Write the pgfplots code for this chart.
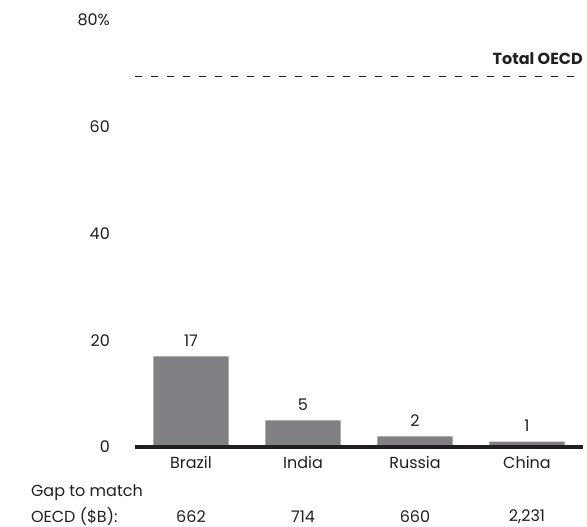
\documentclass[border=0pt]{standalone}
\usepackage{pgfplots}
\pgfplotsset{compat=1.18}
\usepackage{fontspec}
\setmainfont{Poppins}
\definecolor{bargray}{RGB}{128,129,133}
\definecolor{ink}{RGB}{35,31,32}
\newcommand{\lbl}{\fontsize{16}{19}\selectfont}
\begin{document}
\begin{tikzpicture}
\begin{axis}[
  at={(135pt,80pt)}, anchor=south west,
  scale only axis, width=448pt, height=427pt,
  xmin=-0.5, xmax=3.5, ymin=0, ymax=80,
  axis line style={draw=none},
  major tick length=0pt,
  xtick={0,1,2,3}, xticklabels={Brazil,India,Russia,China},
  ytick={0,20,40,60,80}, yticklabels={0,20,40,60,80\%},
  xticklabel style={inner sep=0pt, anchor=north, yshift=-9pt, text=ink},
  yticklabel style={inner sep=0pt, anchor=east, xshift=-25pt, text=ink},
  tick label style={font=\lbl},
  clip=false,
]
\addplot[ybar, bar width=0.67, fill=bargray, draw=none,
  nodes near coords, nodes near coords style={inner sep=0pt, anchor=south, yshift=10pt, text=ink, font=\lbl, /pgf/number format/assume math mode=true}]
  coordinates {(0,17) (1,5) (2,2) (3,1)};
\addplot[ink, line width=4pt, forget plot] coordinates {(-0.5,0) (3.5,0)};
\addplot[ink, line width=1pt, dash pattern=on 7pt off 9pt] coordinates {(-0.5,69.4) (3.45,69.4)};
\node[anchor=east, inner sep=0pt, text=ink, font=\bfseries\lbl] at (axis cs:3.5,72.7) {Total OECD};
\node[anchor=west, inner sep=0pt, text=ink, font=\lbl] at (axis cs:-1.43,-8.6) {Gap to match};
\node[anchor=west, inner sep=0pt, text=ink, font=\lbl] at (axis cs:-1.43,-13.1) {OECD (\$B):};
\node[inner sep=0pt, text=ink, font=\lbl] at (axis cs:0,-13.1) {662};
\node[inner sep=0pt, text=ink, font=\lbl] at (axis cs:1,-13.1) {714};
\node[inner sep=0pt, text=ink, font=\lbl] at (axis cs:2,-13.1) {660};
\node[inner sep=0pt, text=ink, font=\lbl] at (axis cs:3,-13.1) {2,231};
\end{axis}
\pgfresetboundingbox
\path (0,0) rectangle (587pt,527pt);
\end{tikzpicture}
\end{document}
